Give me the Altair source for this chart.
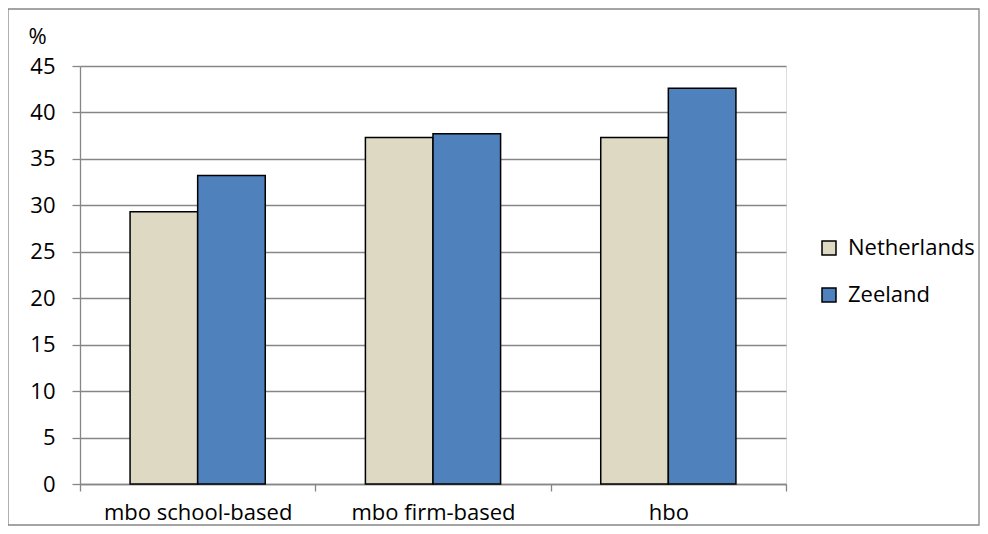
import altair as alt
import pandas as pd

categories = ["mbo school-based", "mbo firm-based", "hbo"]
series = ["Netherlands", "Zeeland"]
netherlands = [29.3, 37.3, 37.3]
zeeland = [33.2, 37.7, 42.6]
y_ticks = [0, 5, 10, 15, 20, 25, 30, 35, 40, 45]
colors = ["#DDD9C3", "#4F81BD"]

rows = []
for c, nl, ze in zip(categories, netherlands, zeeland):
    rows.append({"category": c, "series": series[0], "value": nl})
    rows.append({"category": c, "series": series[1], "value": ze})
df = pd.DataFrame(rows)

FONT = "Open Sans"
FS = 22
GRAY = "#868686"

bars = alt.Chart(df).mark_bar(stroke="black", strokeWidth=1.5).encode(
    x=alt.X("category:N", sort=categories,
            scale=alt.Scale(paddingInner=0, paddingOuter=0),
            axis=alt.Axis(title=None, labelAngle=0, tickBand="extent", tickSize=7,
                          tickColor=GRAY, tickWidth=1.3, domainColor=GRAY, domainWidth=1.3,
                          labelFont=FONT, labelFontSize=FS, labelColor="black",
                          labelLimit=0,
                          labelBaseline="alphabetic", labelPadding=28, grid=False)),
    xOffset=alt.XOffset("series:N", sort=series,
                        scale=alt.Scale(paddingInner=0, paddingOuter=0.7407)),
    y=alt.Y("value:Q", scale=alt.Scale(domain=[0, 45], nice=False),
            axis=alt.Axis(values=y_ticks, title="%", titleAngle=0, titleAlign="left",
                          titleBaseline="alphabetic", titleX=-52, titleY=-23,
                          titleFont=FONT, titleFontSize=FS, titleFontWeight="normal",
                          titleColor="black",
                          labelFont=FONT, labelFontSize=FS, labelColor="black",
                          labelPadding=17, tickSize=8, tickColor=GRAY, tickWidth=1.3,
                          domainColor=GRAY, domainWidth=1.3,
                          grid=True, gridColor=GRAY, gridWidth=1.3)),
    color=alt.Color("series:N", sort=series,
                    scale=alt.Scale(domain=series, range=colors),
                    legend=alt.Legend(title=None, orient="none", legendX=738, legendY=171,
                                      symbolType="square", symbolSize=196,
                                      symbolStrokeColor="black", symbolStrokeWidth=1.5,
                                      labelFont=FONT, labelFontSize=FS, labelColor="black",
                                      rowPadding=25, labelOffset=8, padding=0)),
)

border = alt.Chart(alt.Data(values=[{"a": 1}])).mark_rect(
    fill=None, stroke=GRAY, strokeWidth=1.3
).encode(
    x=alt.value(-72), x2=alt.value(899), y=alt.value(-57), y2=alt.value(459)
)

chart = alt.layer(border, bars).properties(
    width=706, height=418,
    autosize=alt.AutoSizeParams(type="none"),
    padding={"left": 72, "top": 58, "right": 194, "bottom": 42},
).configure_view(stroke=None).configure(background="white")

chart.save("out.html", embed_options={"renderer": "svg", "actions": False})
